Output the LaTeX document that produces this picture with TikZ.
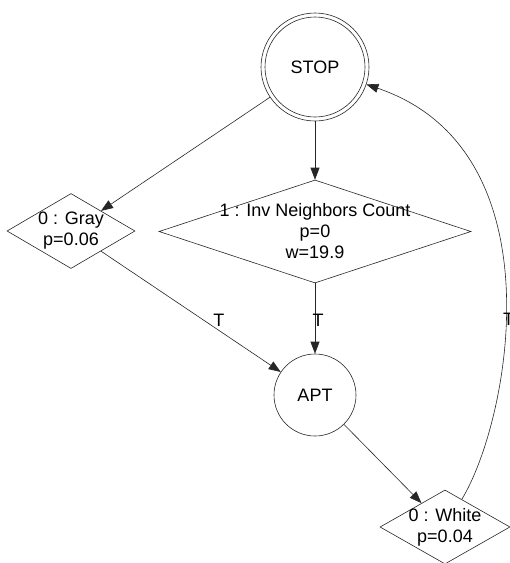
\documentclass[tikz,border=0pt]{standalone}
\usepackage{fontspec}
\setmainfont{Liberation Sans}
\usetikzlibrary{shapes.geometric,arrows.meta}
\begin{document}
\begin{tikzpicture}[x=1pt,y=-1pt,
  every node/.style={font=\fontsize{18}{21}\selectfont, align=center},
  lw/.style={line width=0.6pt},
  edge/.style={draw=black!85, lw, -{Triangle[length=12pt,width=9pt]}},
  dia/.style={diamond, draw=black!85, lw, inner sep=0pt},
  statebox/.style={circle, draw=black!85, lw, inner sep=0pt},
  lbl/.style={inner sep=0pt, anchor=center}]
\useasboundingbox (0,0) rectangle (510,563);

% nodes
\node[statebox, minimum size=108pt] (stop) at (315,67) {STOP};
\draw[black!85, lw] (stop.center) circle[radius=50pt];
\node[dia, minimum width=128pt, minimum height=75pt,
      label={center:0 : Gray\\p=0.06}] (gray) at (71,231) {};
\node[dia, minimum width=312pt, minimum height=103pt,
      label={center:1 : Inv Neighbors Count\\p=0\\w=19.9}] (inv) at (315,231.5) {};
\node[statebox, minimum size=82pt] (apt) at (315,395) {APT};
\node[dia, minimum width=130pt, minimum height=74pt,
      label={center:0 : White\\p=0.04}] (white) at (445,527) {};

% edges
\draw[edge] (stop) -- (gray);
\draw[edge] (stop) -- (inv);
\draw[edge] (gray) -- node[lbl, pos=0.656, yshift=10pt] {T} (apt);
\draw[edge] (inv) -- node[lbl, pos=0.53, xshift=3pt] {T} (apt);
\draw[edge] (apt) -- (white);
\draw[edge] (white) .. controls (510,420) and (560,150) .. node[lbl, pos=0.436, xshift=3pt] {T} (stop);
\end{tikzpicture}
\end{document}
